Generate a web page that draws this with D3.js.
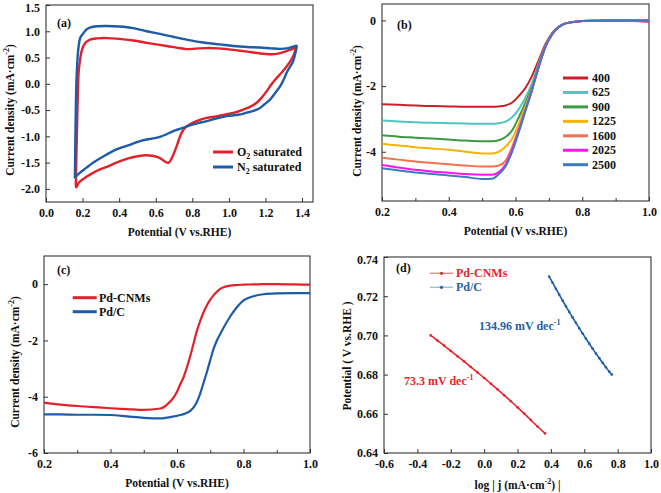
<!DOCTYPE html>
<html><head><meta charset="utf-8">
<script src="https://cdn.jsdelivr.net/npm/d3@7"></script>
<style>
body{margin:0;background:#fff}
svg text{font-family:"Liberation Serif","Times New Roman",serif;font-weight:bold;fill:#111}
</style></head><body>
<svg id="chart" width="661" height="493"></svg>
<script>
// ---------- DATA ----------
// (a) cyclic voltammograms [potential V, current mA cm-2]
const cvO2 = [[0.163,-1.9],[0.166,-1.4],[0.17,-0.8],[0.174,-0.2],[0.178,0.2],[0.186,0.45],[0.197,0.65],[0.213,0.77],[0.24,0.84],[0.28,0.865],[0.332,0.87],[0.4,0.855],[0.477,0.824],[0.56,0.775],[0.66,0.72],[0.72,0.685],[0.769,0.66],[0.82,0.67],[0.879,0.68],[0.94,0.675],[0.988,0.66],[1.06,0.63],[1.134,0.597],[1.207,0.566],[1.25,0.565],[1.28,0.585],[1.33,0.64],[1.365,0.68],
  [1.36,0.6],[1.34,0.45],[1.316,0.33],[1.29,0.22],[1.261,0.11],[1.235,0.0],[1.207,-0.14],[1.18,-0.26],[1.152,-0.36],[1.115,-0.44],[1.079,-0.49],[1.03,-0.55],[0.988,-0.58],[0.93,-0.62],[0.879,-0.65],[0.83,-0.7],[0.787,-0.77],[0.76,-0.84],[0.742,-0.93],[0.728,-1.05],[0.715,-1.18],[0.70,-1.32],[0.687,-1.42],[0.672,-1.5],[0.655,-1.49],[0.635,-1.44],[0.614,-1.4],[0.58,-1.37],[0.55,-1.36],[0.5,-1.38],[0.45,-1.42],[0.386,-1.5],[0.34,-1.57],[0.295,-1.63],[0.25,-1.71],[0.204,-1.81],[0.18,-1.88],[0.165,-1.97],[0.163,-1.9]];
const cvN2 = [[0.158,-1.8],[0.16,-1.2],[0.163,-0.5],[0.166,0.0],[0.171,0.4],[0.178,0.7],[0.188,0.88],[0.204,0.96],[0.22,1.03],[0.24,1.07],[0.28,1.095],[0.332,1.10],[0.4,1.09],[0.477,1.06],[0.55,1.0],[0.623,0.95],[0.7,0.89],[0.769,0.84],[0.85,0.79],[0.951,0.75],[1.024,0.72],[1.1,0.70],[1.17,0.69],[1.23,0.675],[1.28,0.665],[1.325,0.68],[1.355,0.71],[1.37,0.725],
  [1.365,0.6],[1.35,0.42],[1.33,0.3],[1.316,0.21],[1.3,0.08],[1.28,-0.05],[1.25,-0.19],[1.225,-0.30],[1.195,-0.39],[1.17,-0.46],[1.13,-0.52],[1.097,-0.55],[1.05,-0.59],[0.988,-0.615],[0.93,-0.66],[0.879,-0.71],[0.83,-0.75],[0.787,-0.79],[0.74,-0.85],[0.696,-0.9],[0.66,-0.96],[0.623,-1.01],[0.587,-1.04],[0.55,-1.06],[0.514,-1.09],[0.45,-1.17],[0.386,-1.25],[0.32,-1.37],[0.259,-1.50],[0.22,-1.6],[0.186,-1.69],[0.165,-1.76],[0.158,-1.8]];
const cvLabels = ["O", "N"];

// (b) LSV at different rotation rates
const lsvPotential = [0.2,0.25,0.3,0.35,0.4,0.45,0.5,0.53,0.55,0.57,0.59,0.61,0.63,0.65,0.67,0.69,0.71,0.73,0.75,0.78,0.8,0.85,0.9,0.95,1.0];
const rpmLabels = ["400","625","900","1225","1600","2025","2500"];
const j400  = [-2.55,-2.57,-2.59,-2.61,-2.62,-2.63,-2.63,-2.63,-2.62,-2.59,-2.5,-2.3,-2.05,-1.68,-1.2,-0.72,-0.38,-0.19,-0.09,-0.04,-0.02,-0.01,-0.01,-0.02,-0.04];
const j625  = [-3.05,-3.08,-3.1,-3.12,-3.13,-3.14,-3.15,-3.15,-3.13,-3.08,-2.95,-2.7,-2.35,-1.9,-1.3,-0.77,-0.4,-0.2,-0.09,-0.04,-0.02,-0.01,0,0,0];
const j900  = [-3.5,-3.54,-3.57,-3.6,-3.63,-3.66,-3.68,-3.68,-3.65,-3.55,-3.35,-2.95,-2.5,-2.0,-1.35,-0.78,-0.41,-0.2,-0.09,-0.04,-0.02,-0.01,0,0,0];
const j1225 = [-3.76,-3.81,-3.86,-3.9,-3.94,-4.0,-4.05,-4.05,-4.0,-3.85,-3.6,-3.15,-2.62,-2.05,-1.38,-0.79,-0.41,-0.2,-0.09,-0.04,-0.02,-0.01,0,0,0];
const j1600 = [-4.18,-4.24,-4.3,-4.34,-4.38,-4.42,-4.45,-4.45,-4.42,-4.28,-3.85,-3.3,-2.7,-2.08,-1.4,-0.8,-0.42,-0.2,-0.09,-0.04,-0.02,-0.01,0,0,0];
const j2025 = [-4.4,-4.48,-4.55,-4.6,-4.64,-4.68,-4.7,-4.7,-4.62,-4.4,-3.95,-3.35,-2.73,-2.1,-1.4,-0.8,-0.42,-0.2,-0.09,-0.04,-0.02,-0.01,0,0,0];
const j2500 = [-4.5,-4.57,-4.63,-4.68,-4.72,-4.77,-4.83,-4.82,-4.68,-4.45,-4.0,-3.4,-2.75,-2.1,-1.4,-0.8,-0.42,-0.2,-0.09,-0.04,-0.02,-0.01,0,0,0];

// (c) LSV comparison
const cPotential = [0.2,0.25,0.3,0.35,0.4,0.45,0.5,0.55,0.57,0.59,0.6,0.61,0.62,0.63,0.64,0.65,0.66,0.67,0.68,0.69,0.7,0.71,0.72,0.73,0.74,0.76,0.78,0.8,0.83,0.86,0.9,0.95,1.0];
const jPdCNMs = [-4.21,-4.28,-4.33,-4.37,-4.41,-4.44,-4.47,-4.42,-4.28,-4.02,-3.82,-3.55,-3.3,-2.95,-2.55,-2.1,-1.65,-1.3,-1.0,-0.75,-0.55,-0.4,-0.27,-0.17,-0.11,-0.05,-0.03,-0.02,-0.01,0,0,-0.01,-0.02];
const jPdC    = [-4.63,-4.63,-4.64,-4.64,-4.65,-4.7,-4.75,-4.77,-4.74,-4.7,-4.68,-4.65,-4.62,-4.57,-4.5,-4.38,-4.18,-3.88,-3.5,-3.12,-2.7,-2.3,-2.0,-1.77,-1.55,-1.15,-0.82,-0.58,-0.43,-0.36,-0.33,-0.32,-0.32];
const cSeries = ["Pd-CNMs","Pd/C"];

// (d) Tafel plots
const tafelCNMsX = [-0.32,-0.28,-0.24,-0.20,-0.16,-0.12,-0.08,-0.04,0.00,0.04,0.08,0.12,0.16,0.20,0.24,0.28,0.32,0.365];
const tafelCNMsY = [0.700,0.6974,0.6948,0.6921,0.6894,0.6867,0.6839,0.6811,0.6783,0.6754,0.6725,0.6695,0.6664,0.6633,0.6601,0.6568,0.6535,0.6500];
const tafelPdCX = [0.39,0.41,0.43,0.45,0.47,0.49,0.51,0.53,0.55,0.57,0.59,0.61,0.63,0.65,0.67,0.69,0.71,0.73,0.75,0.765];
const tafelPdCY = [0.7300,0.7269,0.7238,0.7208,0.7178,0.7149,0.7120,0.7092,0.7064,0.7037,0.7010,0.6984,0.6958,0.6933,0.6908,0.6884,0.6860,0.6837,0.6815,0.6800];
const tafelLabels = ["73.3 mV dec", "134.96 mV dec"];

// ---------- STYLE ----------
const RED = "#e2212a", BLUE = "#1d5ca6";
const rpmColors = ["#cc1f2c","#4fc6c4","#3e9a42","#f6b400","#f2714f","#ff14f0","#3c7cc0"];
const svg = d3.select("#chart");
svg.append("rect").attr("width",661).attr("height",493).attr("fill","#fff");
const fmt1 = d => d3.format(".1f")(d).replace("\u2212","-");
const fmt2 = d => d3.format(".2f")(d).replace("\u2212","-");
const fmt0 = d => d3.format("d")(d).replace("\u2212","-");

function panel(o){
  const x = d3.scaleLinear().domain(o.xd).range([o.l,o.r]);
  const y = d3.scaleLinear().domain(o.yd).range([o.b,o.t]);
  const g = svg.append("g");
  const ax = d3.axisBottom(x).tickValues(o.xt).tickFormat(o.xf).tickSizeInner(-4).tickSizeOuter(0).tickPadding(6);
  g.append("g").attr("transform",`translate(0,${o.b})`).call(ax);
  const ay = d3.axisLeft(y).tickValues(o.yt).tickFormat(o.yf).tickSizeInner(-4).tickSizeOuter(0).tickPadding(6);
  const gy = g.append("g").attr("transform",`translate(${o.l},0)`).call(ay);
  if(o.xm){
    g.append("g").attr("transform",`translate(0,${o.b})`)
     .call(d3.axisBottom(x).tickValues(o.xm).tickFormat("").tickSizeInner(-3).tickSizeOuter(0));
  }
  g.selectAll(".domain").remove();
  g.selectAll(".tick line").attr("stroke","#333").attr("stroke-width",1);
  g.selectAll(".tick text").attr("font-size",12).attr("fill","#111")
   .style("font-family",'"Liberation Serif","Times New Roman",serif').style("font-weight","bold");
  // keep the top y label inside the picture
  gy.selectAll(".tick text").filter(d=>d===o.yd[1]).attr("dy","0.5em");
  g.append("rect").attr("x",o.l).attr("y",o.t).attr("width",o.r-o.l).attr("height",o.b-o.t)
   .attr("fill","none").attr("stroke","#333").attr("stroke-width",1.1);
  g.append("text").attr("x",(o.l+o.r)/2).attr("y",o.xty).attr("text-anchor","middle")
   .attr("font-size",11.5).call(o.xtitle);
  g.append("text").attr("transform",`translate(${o.ytx},${o.ytc}) rotate(-90)`).attr("text-anchor","middle")
   .attr("font-size",11.5).call(o.ytitle);
  g.append("text").attr("x",o.lx).attr("y",o.ly).attr("font-size",12).text(o.label);
  return {x,y,g};
}
const sup = (sel, base, s, tail) => {
  sel.append("tspan").text(base);
  sel.append("tspan").attr("dy",-5).attr("font-size",8).text(s);
  sel.append("tspan").attr("dy",5).text(tail);
};
const jTitle = sel => sup(sel, "Current density (mA\u00b7cm", "-2", ")");
const potTitle = sel => sel.text("Potential (V vs.RHE)");

// ---------- (a) ----------
const A = panel({l:46,r:313,t:5,b:202,xd:[0,1.46],yd:[-2.25,1.5],
  xt:[0,0.2,0.4,0.6,0.8,1.0,1.2,1.4],xf:fmt1,yt:[-2,-1.5,-1,-0.5,0,0.5,1,1.5],yf:fmt1,
  xty:236,xtitle:potTitle,ytx:14,ytc:110,ytitle:jTitle,lx:57,ly:27,label:"(a)"});
const lineA = d3.line().x(d=>A.x(d[0])).y(d=>A.y(d[1])).curve(d3.curveCatmullRom.alpha(0.5));
A.g.append("path").datum(cvO2).attr("d",lineA).attr("fill","none").attr("stroke",RED).attr("stroke-width",2.4);
A.g.append("path").datum(cvN2).attr("d",lineA).attr("fill","none").attr("stroke",BLUE).attr("stroke-width",2.4);
[[cvLabels[0],RED,152],[cvLabels[1],BLUE,167]].forEach(([lab,c,yy])=>{
  A.g.append("line").attr("x1",213).attr("x2",233).attr("y1",yy).attr("y2",yy).attr("stroke",c).attr("stroke-width",3);
  const t = A.g.append("text").attr("x",237).attr("y",yy+4).attr("font-size",12);
  t.append("tspan").text(lab);
  t.append("tspan").attr("dy",3).attr("font-size",8).text("2");
  t.append("tspan").attr("dy",-3).text(" saturated");
});

// ---------- (b) ----------
const B = panel({l:382,r:649,t:4,b:201,xd:[0.2,1.0],yd:[-5.5,0.5],
  xt:[0.2,0.4,0.6,0.8,1.0],xf:fmt1,xm:[0.3,0.5,0.7,0.9],yt:[-4,-2,0],yf:fmt0,
  xty:235,xtitle:potTitle,ytx:361,ytc:111,ytitle:jTitle,lx:397,ly:29,label:"(b)"});
const lsvSets = [j400,j625,j900,j1225,j1600,j2025,j2500];
const lineB = d3.line().x((d,i)=>B.x(lsvPotential[i])).y(d=>B.y(d)).curve(d3.curveMonotoneX);
lsvSets.forEach((s,k)=>{
  B.g.append("path").datum(s).attr("d",lineB).attr("fill","none").attr("stroke",rpmColors[k]).attr("stroke-width",2);
});
rpmLabels.forEach((lab,k)=>{
  const yy = 78 + k*14.45;
  B.g.append("line").attr("x1",563).attr("x2",588).attr("y1",yy).attr("y2",yy).attr("stroke",rpmColors[k]).attr("stroke-width",3);
  B.g.append("text").attr("x",592).attr("y",yy+4).attr("font-size",12).text(lab);
});

// ---------- (c) ----------
const C = panel({l:44,r:310,t:256,b:453,xd:[0.2,1.0],yd:[-6,1],
  xt:[0.2,0.4,0.6,0.8,1.0],xf:fmt1,xm:[0.3,0.5,0.7,0.9],yt:[-6,-4,-2,0],yf:fmt0,
  xty:487,xtitle:potTitle,ytx:19,ytc:362,ytitle:jTitle,lx:57,ly:274,label:"(c)"});
const lineC = d3.line().x((d,i)=>C.x(cPotential[i])).y(d=>C.y(d)).curve(d3.curveMonotoneX);
C.g.append("path").datum(jPdCNMs).attr("d",lineC).attr("fill","none").attr("stroke",RED).attr("stroke-width",2.2);
C.g.append("path").datum(jPdC).attr("d",lineC).attr("fill","none").attr("stroke",BLUE).attr("stroke-width",2.2);
[[cSeries[0],RED,297.7],[cSeries[1],BLUE,311.7]].forEach(([lab,c,yy])=>{
  C.g.append("line").attr("x1",72.7).attr("x2",96.7).attr("y1",yy).attr("y2",yy).attr("stroke",c).attr("stroke-width",3);
  C.g.append("text").attr("x",99).attr("y",yy+4).attr("font-size",12).text(lab);
});

// ---------- (d) ----------
const D = panel({l:384,r:651,t:257,b:453,xd:[-0.6,1.0],yd:[0.64,0.74],
  xt:[-0.6,-0.4,-0.2,0,0.2,0.4,0.6,0.8,1.0],xf:fmt1,yt:[0.64,0.66,0.68,0.70,0.72,0.74],yf:fmt2,
  xty:489,xtitle:sel=>{sup(sel,"log | j (mA\u00b7cm","-2",") |");},
  ytx:351,ytc:356,ytitle:sel=>sel.text("Potential ( V vs.RHE )"),lx:396,ly:272,label:"(d)"});
const tafel = [
  {x:tafelCNMsX,y:tafelCNMsY,c:"#e8242c",light:"#f08a8e"},
  {x:tafelPdCX,y:tafelPdCY,c:"#1f5fa6",light:"#9cc2de"}];
tafel.forEach(s=>{
  const pts = s.x.map((v,i)=>[v,s.y[i]]);
  D.g.append("path").datum(pts).attr("d",d3.line().x(d=>D.x(d[0])).y(d=>D.y(d[1])).curve(d3.curveMonotoneX))
   .attr("fill","none").attr("stroke",s.c).attr("stroke-width",1.6);
  D.g.selectAll(null).data(pts).enter().append("circle")
   .attr("cx",d=>D.x(d[0])).attr("cy",d=>D.y(d[1])).attr("r",1.3).attr("fill",s.c);
});
[[cSeries[0],tafel[0],273.3],[cSeries[1],tafel[1],287.3]].forEach(([lab,s,yy])=>{
  D.g.append("line").attr("x1",430).attr("x2",453).attr("y1",yy).attr("y2",yy).attr("stroke",s.light).attr("stroke-width",1.5);
  D.g.append("circle").attr("cx",441.5).attr("cy",yy).attr("r",1.6).attr("fill",s.c);
  D.g.append("text").attr("x",456).attr("y",yy+4).attr("font-size",12).style("fill",s.c).text(lab);
});
[[tafelLabels[1],tafel[1].c,479,330],[tafelLabels[0],tafel[0].c,404,385]].forEach(([lab,c,xx,yy])=>{
  const t = D.g.append("text").attr("x",xx).attr("y",yy).attr("font-size",12).style("fill",c);
  t.append("tspan").text(lab);
  t.append("tspan").attr("dy",-5).attr("font-size",8).text("-1");
});
</script></body></html>
